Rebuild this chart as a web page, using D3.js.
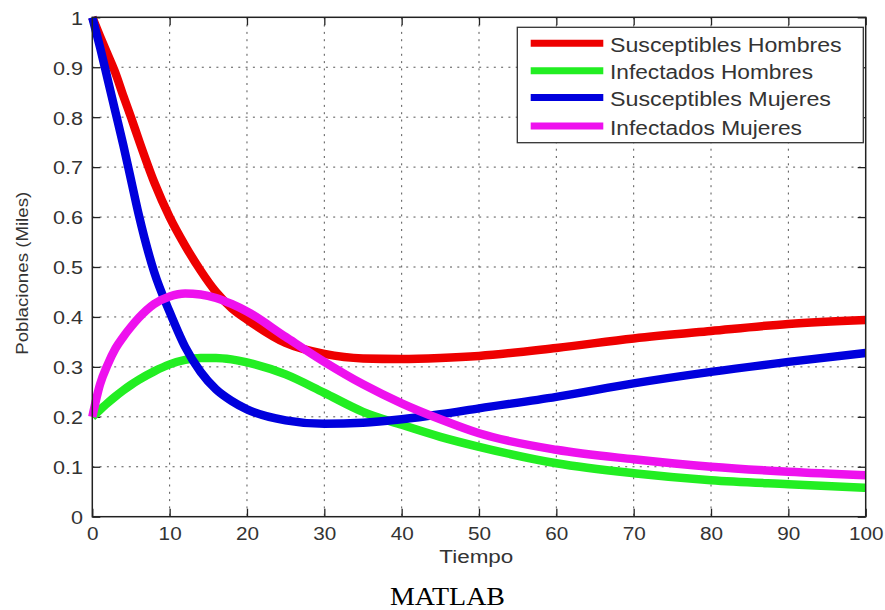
<!DOCTYPE html>
<html><head><meta charset="utf-8">
<script src="https://cdn.jsdelivr.net/npm/d3@7"></script>
<style>
body{margin:0;background:#fff}
svg text{font-family:"Liberation Sans",Arial,Helvetica,sans-serif;fill:#333}
</style>
</head><body>
<svg id="chart" width="885" height="610"></svg>
<script>
// ---- data ----
const tiempo = [0,1,2,3,4,5,6,8,10,12,14,16,18,20,25,30,35,40,45,50,60,70,80,90,100];
const susceptiblesHombres = [1.0,0.962,0.925,0.888,0.843,0.8,0.755,0.67,0.6,0.543,0.493,0.45,0.418,0.395,0.348,0.326,0.317,0.316,0.318,0.322,0.338,0.357,0.372,0.386,0.394];
const infectadosHombres   = [0.2,0.214,0.228,0.241,0.253,0.264,0.274,0.291,0.305,0.314,0.318,0.318,0.315,0.309,0.285,0.248,0.21,0.184,0.16,0.14,0.107,0.087,0.073,0.065,0.058];
const susceptiblesMujeres = [1.0,0.94,0.875,0.81,0.745,0.675,0.605,0.49,0.41,0.34,0.29,0.255,0.232,0.215,0.193,0.186,0.188,0.195,0.205,0.217,0.24,0.267,0.29,0.31,0.328];
const infectadosMujeres   = [0.2,0.265,0.305,0.337,0.36,0.38,0.398,0.426,0.441,0.447,0.445,0.438,0.426,0.411,0.36,0.31,0.265,0.227,0.195,0.167,0.134,0.115,0.1,0.09,0.083];
const seriesNames = ["Susceptibles Hombres","Infectados Hombres","Susceptibles Mujeres","Infectados Mujeres"];
const seriesColors = ["#ee0000","#22ee22","#0000dd","#ee11ee"];
const xTicks = [0,10,20,30,40,50,60,70,80,90,100];
const yTicks = [0,0.1,0.2,0.3,0.4,0.5,0.6,0.7,0.8,0.9,1];
const yTickLabels = ["0","0.1","0.2","0.3","0.4","0.5","0.6","0.7","0.8","0.9","1"];
const xLabel = "Tiempo";
const yLabel = "Poblaciones (Miles)";
const caption = "MATLAB";

// ---- layout ----
const L = 92.3, R = 865.7, T = 17.3, B = 516.7;
const svg = d3.select("#chart");
const x = d3.scaleLinear().domain([0,100]).range([L,R]);
const y = d3.scaleLinear().domain([0,1]).range([B,T]);

function stretch(sel, k){
  sel.each(function(){
    const w = this.getComputedTextLength();
    d3.select(this).attr("textLength", w*k).attr("lengthAdjust","spacingAndGlyphs");
  });
}

// plot background
svg.append("rect").attr("x",L).attr("y",T).attr("width",R-L).attr("height",B-T).attr("fill","#fff");

// grid
const grid = svg.append("g").attr("stroke","#555").attr("stroke-width",1).attr("stroke-dasharray","2,5.3");
grid.selectAll(".gx").data(xTicks.slice(1,-1)).join("line")
  .attr("x1",d=>x(d)).attr("x2",d=>x(d)).attr("y1",T).attr("y2",B);
grid.selectAll(".gy").data(yTicks.slice(1,-1)).join("line")
  .attr("y1",d=>y(d)).attr("y2",d=>y(d)).attr("x1",L).attr("x2",R);

// axes
const tickLen = 8;
const xAxis = svg.append("g").attr("transform",`translate(0,${B})`)
  .call(d3.axisBottom(x).tickValues(xTicks).tickFormat(d3.format("d")).tickSizeInner(-tickLen).tickSizeOuter(0).tickPadding(10.5));
const xTop = svg.append("g").attr("transform",`translate(0,${T})`)
  .call(d3.axisTop(x).tickValues(xTicks).tickFormat("").tickSizeInner(-tickLen).tickSizeOuter(0));
const yAxis = svg.append("g").attr("transform",`translate(${L},0)`)
  .call(d3.axisLeft(y).tickValues(yTicks).tickFormat((d,i)=>yTickLabels[i]).tickSizeInner(-tickLen).tickSizeOuter(0).tickPadding(9.3));
const yRight = svg.append("g").attr("transform",`translate(${R},0)`)
  .call(d3.axisRight(y).tickValues(yTicks).tickFormat("").tickSizeInner(-tickLen).tickSizeOuter(0));
[xAxis,xTop,yAxis,yRight].forEach(g=>{
  g.select(".domain").remove();
  g.selectAll(".tick line").attr("stroke","#222").attr("stroke-width",1.3);
});
xAxis.selectAll("text").attr("font-size",18).attr("fill","#333").style("font-family",'"Liberation Sans",Arial,sans-serif');
yAxis.selectAll("text").attr("font-size",18).attr("fill","#333").attr("dy","0.38em").style("font-family",'"Liberation Sans",Arial,sans-serif');
stretch(xAxis.selectAll("text"),1.15);
stretch(yAxis.selectAll("text"),1.2);

// lines
const allSeries = [susceptiblesHombres, infectadosHombres, susceptiblesMujeres, infectadosMujeres];
const line = d3.line().x((d,i)=>x(tiempo[i])).y(d=>y(d)).curve(d3.curveMonotoneX);
const clip = svg.append("clipPath").attr("id","clip").append("rect")
  .attr("x",L-6).attr("y",T-6).attr("width",R-L+6).attr("height",B-T+12);
svg.append("g").attr("clip-path","url(#clip)")
  .selectAll("path").data(allSeries).join("path")
  .attr("d",line).attr("fill","none")
  .attr("stroke",(d,i)=>seriesColors[i]).attr("stroke-width",8.5)
  .attr("stroke-linejoin","round").attr("stroke-linecap","butt");

// frame
svg.append("rect").attr("x",L).attr("y",T).attr("width",R-L).attr("height",B-T)
  .attr("fill","none").attr("stroke","#222").attr("stroke-width",1.5);

// legend
const lg = svg.append("g");
lg.append("rect").attr("x",517.3).attr("y",27.3).attr("width",346).attr("height",115.4)
  .attr("fill","#fff").attr("stroke","#333").attr("stroke-width",1.3);
const rowY = [43.3,70.7,97.5,126];
const legW = [231.7,203,221,192];
seriesNames.forEach((n,i)=>{
  lg.append("line").attr("x1",530.7).attr("x2",603.3).attr("y1",rowY[i]).attr("y2",rowY[i])
    .attr("stroke",seriesColors[i]).attr("stroke-width",7);
  lg.append("text").attr("x",610).attr("y",rowY[i]+8.7).attr("font-size",19.5)
    .attr("textLength",legW[i]).attr("lengthAdjust","spacingAndGlyphs").text(n);
});

// axis labels
svg.append("text").attr("x",476.3).attr("y",562.5).attr("text-anchor","middle")
  .attr("font-size",17.5).attr("textLength",74).attr("lengthAdjust","spacingAndGlyphs").text(xLabel);
svg.append("text").attr("transform","translate(27.5,273.3) rotate(-90)").attr("text-anchor","middle")
  .attr("font-size",16).attr("textLength",163).attr("lengthAdjust","spacingAndGlyphs").text(yLabel);

// caption
svg.append("text").attr("x",447.5).attr("y",605).attr("text-anchor","middle")
  .style("font-family",'"Liberation Serif","Times New Roman",serif').style("fill","#000")
  .attr("font-size",24.5).attr("textLength",115).attr("lengthAdjust","spacingAndGlyphs").text(caption);
</script>
</body></html>
